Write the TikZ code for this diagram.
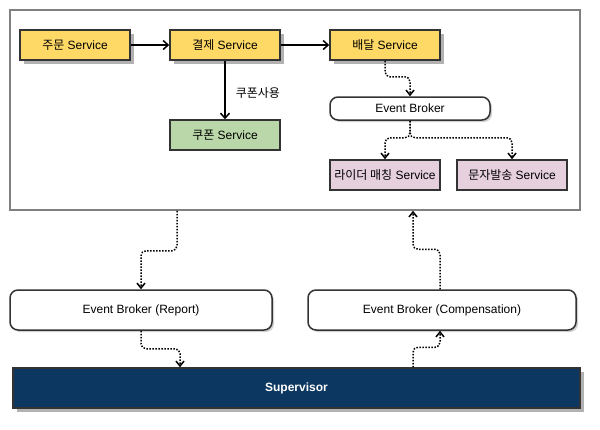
\documentclass[tikz,border=0pt]{standalone}
\usepackage{fontspec}
\setmainfont{Liberation Sans}
\newfontfamily\kr{Noto Sans CJK KR}
\usetikzlibrary{arrows.meta}
\usetikzlibrary{shadows}

\definecolor{boxline}{HTML}{333333}
\definecolor{svcyellow}{HTML}{FFD966}
\definecolor{svcgreen}{HTML}{B9D7A8}
\definecolor{svcpink}{HTML}{E6D0DE}
\definecolor{supnavy}{HTML}{0C3760}
\definecolor{frame}{HTML}{808080}

\begin{document}
\begin{tikzpicture}[x=1pt,y=-1pt,inner sep=0pt,
    font=\fontsize{12}{14}\selectfont,
    svc/.style={draw=boxline,line width=1.5pt,minimum width=110pt,minimum height=30pt},
    core/.style={svc,fill=svcyellow,%
      drop shadow={shadow xshift=4pt,shadow yshift=-4pt,fill=gray!60,opacity=1}},
    broker/.style={draw=boxline,line width=1.5pt,fill=white,rounded corners=8pt,%
      drop shadow={shadow xshift=2pt,shadow yshift=-2pt,fill=gray!35,opacity=1}},
    flow/.style={line width=1.5pt,-{Straight Barb[length=5pt,width=9pt]}},
    evt/.style={line width=1.5pt,dash pattern=on 1.5pt off 1.5pt,rounded corners=5pt,%
      -{Straight Barb[length=5pt,width=8pt]}}]

  % ここまでをバウンディングボックス内とする
  \useasboundingbox (0,0) rectangle (600,429);

  % 全体の枠
  \node[draw=frame,line width=1.5pt,fill=white,minimum width=570pt,minimum height=200pt]
    (sys) at (295,110) {};

  \node[core] (order) at (75,45) {{\kr 주문} Service};
  \node[core] (pay) at (225,45) {{\kr 결제} Service};
  \node[core] (deliv) at (385,45) {{\kr 배달} Service};
  \node[svc,fill=svcgreen] (coupon) at (225,135) {{\kr 쿠폰} Service};

  \node[broker,minimum width=160pt,minimum height=23pt] (broker) at (410,108.5) {Event Broker};
  \node[svc,fill=svcpink] (rider) at (385,175) {{\kr 라이더 매칭} Service};
  \node[svc,fill=svcpink] (sms) at (512,175) {{\kr 문자발송} Service};

  \node[broker,minimum width=262pt,minimum height=40pt] (report) at (141,310)
    {Event Broker (Report)};
  \node[broker,minimum width=268pt,minimum height=40pt] (comp) at (442,310)
    {Event Broker (Compensation)};

  \node[draw=boxline,line width=1.5pt,fill=supnavy,text=white,font=\fontsize{12}{14}\selectfont\bfseries,%
    minimum width=567pt,minimum height=40pt,%
    drop shadow={shadow xshift=4pt,shadow yshift=-4pt,fill=gray!60,opacity=1}]
    (super) at (296.5,388) {Supervisor};

  % 同期呼び出し
  \draw[flow] (order) -- (pay);
  \draw[flow] (pay) -- (deliv);
  \draw[flow] (pay) -- node[pos=0.55,anchor=west,xshift=10pt]{\kr 쿠폰사용} (coupon);

  % イベント
  \draw[evt] (deliv.south) -- ++(0,16) -| (broker.north);
  \draw[evt] (broker.south) -- ++(0,17) -| (rider.north);
  \draw[evt] (broker.south) -- ++(0,17) -| (sms.north);

  \draw[evt] ([xshift=-118pt]sys.south) -- ++(0,40) -| (report.north);
  \draw[evt] (report.south) -- ++(0,18) -| ([xshift=-116.5pt]super.north);
  \draw[evt] ([xshift=116.5pt]super.north) -- ++(0,-20) -| ([xshift=-2pt]comp.south);
  \draw[evt] ([xshift=-2pt]comp.north) -- ++(0,-40) -| ([xshift=118pt]sys.south);
\end{tikzpicture}
\end{document}
